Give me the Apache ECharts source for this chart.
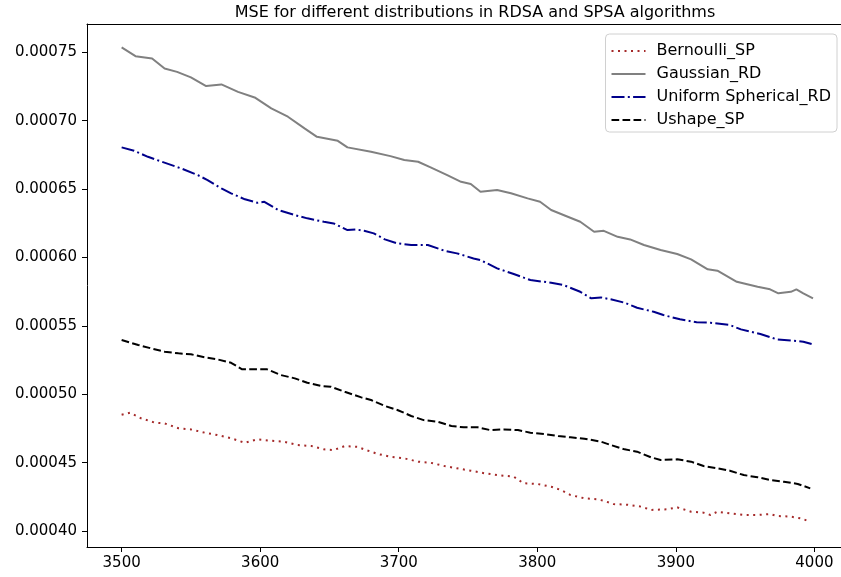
<!DOCTYPE html>
<html>
<head>
<meta charset="utf-8">
<script src="https://cdn.jsdelivr.net/npm/echarts@6/dist/echarts.min.js"></script>
<style>
  html, body { margin: 0; padding: 0; background: #fff; }
  #chart { width: 841px; height: 577px; }
</style>
</head>
<body>
<div id="chart"></div>
<script>
// values, [iteration, MSE]
const bernoulliSP = [
  [3500,0.0004850],[3506,0.0004865],[3514,0.0004824],[3524,0.0004792],[3531,0.0004787],[3541,0.0004751],
  [3550,0.0004743],[3560,0.0004719],[3569,0.0004702],[3579,0.0004678],[3589,0.0004645],[3598,0.0004670],
  [3608,0.0004660],[3617,0.0004653],[3627,0.0004629],[3637,0.0004621],[3646,0.0004597],[3653,0.0004592],
  [3661,0.0004621],[3670,0.0004616],[3675,0.0004597],[3685,0.0004563],[3694,0.0004543],[3704,0.0004531],
  [3714,0.0004507],[3723,0.0004499],[3733,0.0004475],[3742,0.0004458],[3752,0.0004441],[3762,0.0004422],
  [3771,0.0004409],[3783,0.0004397],[3790,0.0004349],[3800,0.0004344],[3810,0.0004324],[3817,0.0004300],
  [3824,0.0004263],[3834,0.0004239],[3843,0.0004232],[3848,0.0004221],[3855,0.0004197],[3865,0.0004192],
  [3875,0.0004178],[3882,0.0004154],[3894,0.0004159],[3901,0.0004173],[3911,0.0004141],[3920,0.0004134],
  [3925,0.0004117],[3930,0.0004141],[3939,0.0004129],[3949,0.0004117],[3959,0.0004117],[3968,0.0004124],
  [3973,0.0004110],[3983,0.0004105],[3990,0.0004093],[3997,0.0004068]
];
const gaussianRD = [
  [3500,0.0007536],[3510,0.0007472],[3522,0.0007455],[3531,0.0007382],[3540,0.0007357],[3550,0.0007317],
  [3561,0.0007253],[3572,0.0007265],[3584,0.0007211],[3596,0.0007170],[3608,0.0007090],[3620,0.0007029],
  [3632,0.0006944],[3641,0.0006882],[3656,0.0006853],[3663,0.0006805],[3680,0.0006773],[3694,0.0006741],
  [3704,0.0006712],[3714,0.0006700],[3723,0.0006659],[3735,0.0006602],[3745,0.0006553],[3752,0.0006537],
  [3759,0.0006480],[3771,0.0006493],[3781,0.0006469],[3793,0.0006432],[3802,0.0006407],[3810,0.0006347],
  [3822,0.0006298],[3831,0.0006261],[3841,0.0006188],[3848,0.0006195],[3858,0.0006151],[3867,0.0006132],
  [3877,0.0006091],[3889,0.0006054],[3901,0.0006025],[3911,0.0005986],[3923,0.0005913],[3930,0.0005903],
  [3944,0.0005822],[3959,0.0005786],[3968,0.0005767],[3974,0.0005738],[3983,0.0005749],[3987,0.0005767],
  [3992,0.0005738],[3999,0.0005701]
];
const uniformSphericalRD = [
  [3500,0.0006805],[3509,0.0006780],[3519,0.0006736],[3529,0.0006700],[3543,0.0006651],[3555,0.0006602],
  [3562,0.0006566],[3572,0.0006505],[3579,0.0006469],[3589,0.0006425],[3598,0.0006400],[3603,0.0006407],
  [3613,0.0006347],[3625,0.0006310],[3634,0.0006286],[3646,0.0006261],[3653,0.0006249],[3663,0.0006200],
  [3669,0.0006205],[3675,0.0006195],[3682,0.0006176],[3690,0.0006132],[3699,0.0006103],[3709,0.0006091],
  [3721,0.0006091],[3733,0.0006049],[3742,0.0006030],[3754,0.0005993],[3759,0.0005981],[3771,0.0005920],
  [3783,0.0005879],[3795,0.0005835],[3810,0.0005815],[3819,0.0005798],[3831,0.0005749],[3839,0.0005701],
  [3846,0.0005708],[3853,0.0005694],[3863,0.0005669],[3872,0.0005632],[3884,0.0005603],[3891,0.0005579],
  [3903,0.0005548],[3915,0.0005526],[3925,0.0005523],[3939,0.0005506],[3947,0.0005474],[3961,0.0005440],
  [3973,0.0005401],[3985,0.0005391],[3992,0.0005384],[3998,0.0005367]
];
const ushapeSP = [
  [3500,0.0005396],[3512,0.0005360],[3521,0.0005336],[3531,0.0005311],[3541,0.0005299],[3550,0.0005292],
  [3560,0.0005270],[3569,0.0005255],[3579,0.0005230],[3587,0.0005182],[3596,0.0005182],[3605,0.0005182],
  [3615,0.0005140],[3625,0.0005116],[3634,0.0005084],[3644,0.0005060],[3651,0.0005055],[3661,0.0005018],
  [3673,0.0004977],[3680,0.0004958],[3690,0.0004914],[3699,0.0004885],[3709,0.0004841],[3718,0.0004811],
  [3728,0.0004799],[3738,0.0004768],[3747,0.0004758],[3757,0.0004758],[3766,0.0004738],[3776,0.0004743],
  [3786,0.0004738],[3795,0.0004719],[3805,0.0004709],[3815,0.0004694],[3824,0.0004685],[3834,0.0004675],
  [3846,0.0004653],[3853,0.0004629],[3863,0.0004597],[3872,0.0004580],[3882,0.0004539],[3889,0.0004519],
  [3901,0.0004524],[3911,0.0004507],[3920,0.0004475],[3930,0.0004458],[3939,0.0004441],[3949,0.0004409],
  [3959,0.0004393],[3968,0.0004373],[3978,0.0004360],[3988,0.0004344],[3997,0.0004312]
];

const xTicks = [3500, 3600, 3700, 3800, 3900, 4000];
const yTicks = [0.0004, 0.00045, 0.0005, 0.00055, 0.0006, 0.00065, 0.0007, 0.00075];

const FONT = "DejaVu Sans";

const chart = echarts.init(document.getElementById("chart"), null, { renderer: "canvas" });

function lineSeries(name, data, color, dash) {
  return {
    name: name,
    type: "line",
    data: data,
    symbol: "none",
    smooth: false,
    animation: false,
    lineStyle: { color: color, width: 2, type: dash, cap: "butt" },
    itemStyle: { color: color },
  };
}

chart.setOption({
  backgroundColor: "#fff",
  animation: false,
  title: {
    text: "MSE for different distributions in RDSA and SPSA algorithms",
    left: 470,
    top: 0,
    textAlign: "center",
    textStyle: { fontFamily: FONT, fontSize: 16, fontWeight: "normal", color: "#000" },
  },
  legend: {
    right: 4,
    top: 34,
    orient: "vertical",
    itemWidth: 34,
    itemHeight: 14,
    itemGap: 7,
    padding: [9, 6, 4, 5],
    backgroundColor: "#fff",
    borderColor: "#d0d0d0",
    borderWidth: 1,
    borderRadius: 4,
    itemStyle: { color: "transparent", borderWidth: 0, opacity: 0 },
    textStyle: { fontFamily: FONT, fontSize: 16, color: "#000", padding: [0, 0, 0, 6] },
    data: ["Bernoulli_SP", "Gaussian_RD", "Uniform Spherical_RD", "Ushape_SP"],
  },
  // the reference crops the plot frame on the right, so the grid runs to the edge
  grid: {
    left: 87,
    top: 24,
    right: 0,
    bottom: 30,
    show: false,
  },
  xAxis: [
    {
      type: "value",
      min: 3475,
      max: 4019.2,
      axisLine: { show: true, onZero: false, lineStyle: { color: "#000", width: 1 } },
      axisTick: { show: true, length: 5, customValues: xTicks, lineStyle: { color: "#000" } },
      axisLabel: {
        customValues: xTicks,
        margin: 9,
        fontFamily: FONT,
        fontSize: 15,
        color: "#000",
        formatter: (v) => String(v),
      },
      splitLine: { show: false },
    },
    {
      type: "value",
      position: "top",
      min: 3475,
      max: 4019.2,
      axisLine: { show: true, onZero: false, lineStyle: { color: "#000", width: 1 } },
      axisTick: { show: false },
      axisLabel: { show: false },
      splitLine: { show: false },
    },
  ],
  yAxis: {
    type: "value",
    min: 0.0003883,
    max: 0.0007707,
    axisLine: { show: true, onZero: false, lineStyle: { color: "#000", width: 1 } },
    axisTick: { show: true, length: 5, customValues: yTicks, lineStyle: { color: "#000" } },
    axisLabel: {
      customValues: yTicks,
      margin: 10,
      fontFamily: FONT,
      fontSize: 15,
      color: "#000",
      formatter: (v) => v.toFixed(5),
    },
    splitLine: { show: false },
  },
  series: [
    lineSeries("Bernoulli_SP", bernoulliSP, "#a52a2a", [2, 4.5]),
    lineSeries("Gaussian_RD", gaussianRD, "#808080", "solid"),
    lineSeries("Uniform Spherical_RD", uniformSphericalRD, "#00008b", [13, 3.3, 2, 3.3]),
    lineSeries("Ushape_SP", ushapeSP, "#000000", [7.7, 3.3]),
  ],
});
</script>
</body>
</html>
